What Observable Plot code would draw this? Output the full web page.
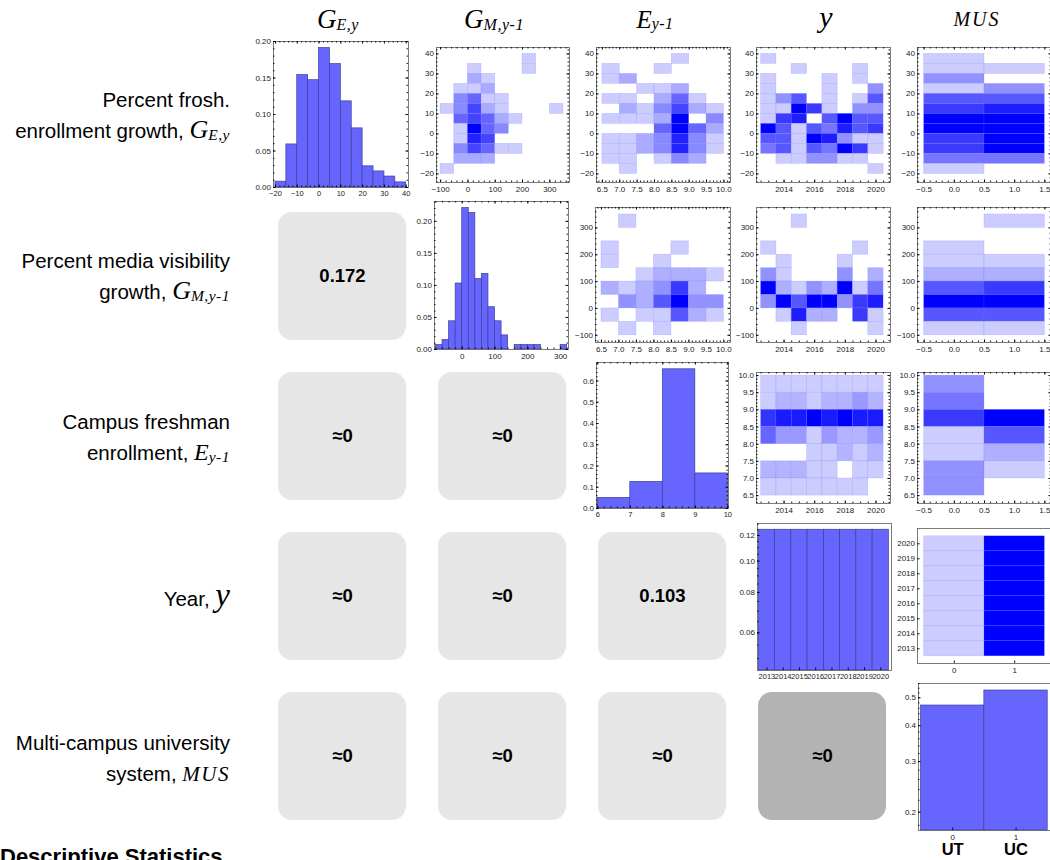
<!DOCTYPE html>
<html><head><meta charset="utf-8">
<script src="https://cdn.jsdelivr.net/npm/d3@7"></script>
<script src="https://cdn.jsdelivr.net/npm/@observablehq/plot@0.6"></script>
<style>
html,body{margin:0;padding:0;background:#fff;overflow:hidden}
#root{position:relative;width:1050px;height:860px;overflow:hidden;font-family:"Liberation Sans",Arial,Helvetica,sans-serif;color:#000}
.hdr{position:absolute;white-space:nowrap;font-family:"Liberation Serif","Times New Roman",serif;font-style:italic;height:40px;line-height:40px;transform:translateX(-50%)}
.hdr sub{font-size:16px;vertical-align:baseline;position:relative;top:0.12em;line-height:0;letter-spacing:0.5px}
.rowlab{position:absolute;right:820px;text-align:right;font-size:20.5px;white-space:nowrap}
.ln{height:31px;line-height:31px}
.mv{font-family:"Liberation Serif","Times New Roman",serif;font-style:italic;line-height:0;font-size:26px}
.mv sub{font-size:15.5px;vertical-align:baseline;position:relative;top:0.1em;line-height:0;letter-spacing:0.5px}
.desc{position:absolute;left:0;top:846px;font-weight:bold;font-size:22px;line-height:22px;white-space:nowrap}
</style></head>
<body><div id="root"></div>
<script>
// ================= DATA =================
// Diagonal histograms (probability per bin)
const geEdges = [-20,-15,-10,-5,0,5,10,15,20,25,30,35,40];
const geFreq  = [0.008,0.059,0.154,0.147,0.191,0.169,0.118,0.081,0.029,0.022,0.015,0.007];
const gmEdges = [-80,-60,-40,-20,0,20,40,60,80,100,120,140,160,180,200,220,240,260,280,300,320];
const gmFreq  = [0.007,0.015,0.044,0.103,0.221,0.213,0.110,0.118,0.066,0.044,0.022,0,0.007,0.007,0.007,0.007,0,0,0,0.007];
const eEdges  = [6,7,8,9,10];
const eFreq   = [0.05,0.125,0.655,0.165];
const yrEdges = [2012.5,2013.5,2014.5,2015.5,2016.5,2017.5,2018.5,2019.5,2020.5];
const yrFreq  = [0.125,0.125,0.125,0.125,0.125,0.125,0.125,0.125];
const musEdges = [-0.5,0.5,1.5];
const musFreq  = [0.47,0.53];
const musNames = ["UT","UC"];

// Density-histogram bin edges (y edges listed top to bottom)
const geYEdges  = [40,35,30,25,20,15,10,5,0,-5,-10,-15,-20];
const gmXEdges  = [-100,-50,0,50,100,150,200,250,300,350];
const gmYEdges  = [350,300,250,200,150,100,50,0,-50,-100];
const eXEdges   = [6.5,7,7.5,8,8.5,9,9.5,10];
const eYEdges   = [10,9.5,9,8.5,8,7.5,7,6.5];
const yrXEdges  = [2012.5,2013.5,2014.5,2015.5,2016.5,2017.5,2018.5,2019.5,2020.5];
const yrYEdges  = [2020.5,2019.5,2018.5,2017.5,2016.5,2015.5,2014.5,2013.5,2012.5];
const musXEdges = [-0.5,0.5,1.5];

// Density counts (rows top->bottom, columns left->right)
const dGE_GM = [
 [0,0,0,0,0,0,1,0,0],[0,0,1,0,0,0,1,0,0],[0,0,2,1,0,0,0,0,0],[0,1,1,2,0,0,0,0,0],
 [0,3,4,1,1,0,0,0,0],[1,3,5,2,1,0,0,0,1],[0,4,5,4,2,1,0,0,0],[0,1,7,4,3,0,0,0,0],
 [0,1,6,5,0,0,0,0,0],[0,3,5,4,1,1,0,0,0],[0,2,2,2,0,0,0,0,0],[1,0,0,0,0,0,0,0,0]];
const dGE_E = [
 [0,0,0,0,1,0,0],[1,0,0,1,0,0,0],[1,2,0,0,0,0,0],[0,0,1,1,2,0,0],
 [1,1,0,2,4,1,0],[0,2,1,3,5,2,1],[1,1,1,2,7,0,3],[0,0,0,4,7,4,2],
 [1,1,2,3,6,3,1],[1,1,2,3,6,3,1],[1,1,0,1,3,2,0],[0,1,0,0,0,0,0]];
const dGE_Y = [
 [1,0,0,0,0,0,0,0],[0,0,1,0,0,0,1,0],[1,0,0,0,1,0,1,0],[1,0,0,0,1,0,0,3],
 [1,3,5,0,1,0,1,5],[1,1,8,6,1,0,3,3],[1,6,7,0,5,8,5,5],[8,5,1,5,4,7,5,6],
 [5,5,1,8,7,3,1,1],[4,5,1,5,4,8,6,1],[0,1,1,3,3,1,1,0],[0,0,0,0,0,0,0,1]];
const dGE_MUS = [
 [1,0],[1,1],[3,0],[1,3],[5,5],[6,7],[8,8],[8,8],[6,8],[6,8],[4,4],[1,0]];
const dGM_E = [
 [0,1,0,0,0,0,0],[0,0,0,0,0,0,0],[1,0,0,0,1,0,0],[1,0,0,1,0,0,0],
 [0,0,1,2,2,2,1],[2,1,2,3,6,2,0],[0,3,2,5,8,3,3],[1,0,1,1,5,2,1],[0,1,0,1,0,0,0]];
const dGM_Y = [
 [0,0,1,0,0,0,0,0],[0,0,0,0,0,0,0,0],[1,0,0,0,0,0,1,0],[0,1,0,0,0,1,0,0],
 [3,1,0,0,0,3,0,2],[8,2,1,3,2,8,1,4],[3,8,5,8,8,3,6,7],[0,1,7,2,2,0,6,1],[0,0,1,0,0,0,0,1]];
const dGM_MUS = [[0,1],[0,0],[1,0],[1,1],[2,2],[5,6],[8,8],[5,5],[1,1]];
const dE_Y = [
 [1,1,1,1,1,1,1,1],[1,2,2,1,2,2,3,2],[7,8,8,9,8,9,8,8],[5,3,3,1,3,2,2,3],
 [0,0,0,1,1,2,1,2],[2,2,2,1,1,0,1,1],[1,1,1,1,1,1,1,0]];
const dE_MUS = [[3,0],[4,0],[6,8],[1,5],[1,2],[3,1],[3,0]];
const dY_MUS = [[8,9],[8,9],[8,9],[8,9],[8,9],[8,9],[8,9],[8,9]];

// Correlation boxes (lower triangle)
const varIds = [0,1,2,3,4];
const corrRow   = [1,2,2,3,3,3,4,4,4,4];
const corrCol   = [0,0,1,0,1,2,0,1,2,3];
const corrLabel = ["0.172","≈0","≈0","≈0","≈0","0.103","≈0","≈0","≈0","≈0"];
const corrShade = ["light","light","light","light","light","light","light","light","light","dark"];

// Tick labels
const geTicks = [-20,-10,0,10,20,30,40];
const gmTicks = [-100,0,100,200,300];
const eTicks  = [6.5,7,7.5,8,8.5,9,9.5,10];
const eHistTicks = [6,7,8,9,10];
const yrTicks = [2014,2016,2018,2020];
const yrAllTicks = [2013,2014,2015,2016,2017,2018,2019,2020];
const musTicks = [-0.5,0,0.5,1,1.5];
const musHistTicks = [0,1];
const pTicks1 = [0,0.05,0.10,0.15,0.20];
const pTicks3 = [0,0.1,0.2,0.3,0.4,0.5,0.6];
const pTicks4 = [0.06,0.08,0.10,0.12];
const pTicks5 = [0.2,0.3,0.4,0.5];

// ================= DRAWING =================
const root = document.getElementById("root");
const FONT = '"Liberation Sans", Arial, Helvetica, sans-serif';
const fD = d3.format("d"), f1 = d3.format(".1f"), f2 = d3.format(".2f");
const HIST_FILL = "#6666ff", HIST_STROKE = "#3e3e96";

function minorTicks(domain, step) {
  const lo = Math.min(...domain), hi = Math.max(...domain);
  const a = Math.ceil(lo / step - 1e-9), b = Math.floor(hi / step + 1e-9);
  return d3.range(a, b + 1).map(k => +(k * step).toFixed(6));
}
function histBins(edges, freq) {
  return freq.map((f, i) => ({x1: edges[i], x2: edges[i + 1], f})).filter(d => d.f > 0);
}
function densityCells(xEdges, yEdges, m) {
  const out = [];
  m.forEach((row, i) => row.forEach((n, j) => {
    if (n > 0) out.push({x1: xEdges[j], x2: xEdges[j + 1], y1: yEdges[i + 1], y2: yEdges[i], n});
  }));
  return out;
}

function panel(o) {
  const [L, T, R, B] = o.frame;
  const w = R - L, h = B - T;
  const ml = 40, mr = 8, mt = 8, mb = 30;
  const inside = dom => v => v >= Math.min(...dom) - 1e-9 && v <= Math.max(...dom) + 1e-9;
  const xt = o.xTicks.filter(inside(o.x.domain));
  const yt = o.yTicks.filter(inside(o.y.domain));
  const xm = o.xMinor ? minorTicks(o.x.domain, o.xMinor) : [];
  const ym = o.yMinor ? minorTicks(o.y.domain, o.yMinor) : [];
  const s = o.sides || "tblr";
  const MAJ = 2.6, MIN = 1.5;
  const ts = {stroke: "#000", strokeWidth: 0.9};
  const marks = [...o.marks, Plot.frame({stroke: "#5a5a5a", strokeWidth: 0.8})];
  if (s.includes("b")) marks.push(Plot.ruleX(xt, {x: d => d, insetTop: h - MAJ, ...ts}), Plot.ruleX(xm, {x: d => d, insetTop: h - MIN, ...ts}));
  if (s.includes("t")) marks.push(Plot.ruleX(xt, {x: d => d, insetBottom: h - MAJ, ...ts}), Plot.ruleX(xm, {x: d => d, insetBottom: h - MIN, ...ts}));
  if (s.includes("l")) marks.push(Plot.ruleY(yt, {y: d => d, insetRight: w - MAJ, ...ts}), Plot.ruleY(ym, {y: d => d, insetRight: w - MIN, ...ts}));
  if (s.includes("r")) marks.push(Plot.ruleY(yt, {y: d => d, insetLeft: w - MAJ, ...ts}), Plot.ruleY(ym, {y: d => d, insetLeft: w - MIN, ...ts}));
  marks.push(Plot.axisX({ticks: xt, tickFormat: o.xFmt, tickSize: 0, tickPadding: 3.5, fontSize: o.xFont || 8, label: null, fill: "#222"}));
  marks.push(Plot.axisY({ticks: yt, tickFormat: o.yFmt, tickSize: 0, tickPadding: 2.5, fontSize: 8, label: null, fill: "#222"}));
  if (o.extra) marks.push(...o.extra);
  const svg = Plot.plot({
    width: w + ml + mr, height: h + mt + mb,
    marginLeft: ml, marginRight: mr, marginTop: mt, marginBottom: mb,
    x: {...o.x}, y: {...o.y},
    color: o.color,
    style: {background: "transparent", overflow: "visible", fontFamily: FONT},
    marks
  });
  svg.style.position = "absolute";
  svg.style.left = (L - ml) + "px";
  svg.style.top = (T - mt) + "px";
  root.append(svg);
}

function histPanel(o, edges, freq) {
  const base = o.y.domain[0];
  o.marks = [Plot.rect(histBins(edges, freq), {x1: "x1", x2: "x2", y1: () => base, y2: "f", fill: HIST_FILL, stroke: HIST_STROKE, strokeWidth: 0.7})];
  panel(o);
}
function densPanel(o, xEdges, yEdges, m) {
  const cells = densityCells(xEdges, yEdges, m);
  const ns = cells.map(d => d.n);
  o.color = {type: "linear", domain: [d3.min(ns), d3.max(ns)], range: ["#ccccff", "#0000ff"], interpolate: "rgb"};
  o.marks = [Plot.rect(cells, {x1: "x1", x2: "x2", y1: "y1", y2: "y2", fill: "n", stroke: "#6f6fff", strokeOpacity: 0.3, strokeWidth: 0.6})];
  panel(o);
}

// ---- Correlation boxes overlay (behind panels) ----
const corr = corrRow.map((r, i) => ({row: r, col: corrCol[i], label: corrLabel[i], shade: corrShade[i]}));
const corrSvg = Plot.plot({
  width: 1050, height: 860,
  marginLeft: 276, marginRight: 2.6, marginTop: 50.2, marginBottom: 38.4,
  x: {type: "band", domain: varIds, paddingInner: 0.2, paddingOuter: 0, axis: null},
  y: {type: "band", domain: varIds, paddingInner: 0.2, paddingOuter: 0, axis: null},
  color: {type: "ordinal", domain: ["light", "dark"], range: ["#e6e6e6", "#b3b3b3"]},
  style: {background: "transparent", fontFamily: FONT},
  marks: [
    Plot.cell(corr, {x: "col", y: "row", fill: "shade", rx: 14, inset: 0}),
    Plot.text(corr, {x: "col", y: "row", text: "label", fontSize: 18.5, fontWeight: "bold", fill: "#000"})
  ]
});
corrSvg.style.position = "absolute"; corrSvg.style.left = "0px"; corrSvg.style.top = "0px";
root.append(corrSvg);

// ---- Axes domains ----
const GE_Y = [-24.3, 43.2], GM_Y = [-127, 376], E_Y = [6.27, 10.09], YR_Y = [2012.02, 2021.02];
const GM_X = [-115, 372], E_X = [6.33, 10.19], YR_X = [2012.2, 2020.95], MUS_X = [-0.61, 1.61];

// Row 1
histPanel({frame: [273, 41, 408, 187], x: {domain: [-20.9, 41.05]}, y: {domain: [0, 0.2]},
  xTicks: geTicks, yTicks: pTicks1, xFmt: fD, yFmt: f2, xMinor: 2, yMinor: 0.01, xFont: 7.5}, geEdges, geFreq);
densPanel({frame: [436, 47, 569, 182], x: {domain: GM_X}, y: {domain: GE_Y},
  xTicks: gmTicks, yTicks: geTicks, xFmt: fD, yFmt: fD, xMinor: 20, yMinor: 2}, gmXEdges, geYEdges, dGE_GM);
densPanel({frame: [596, 47, 730, 182], x: {domain: E_X}, y: {domain: GE_Y},
  xTicks: eTicks, yTicks: geTicks, xFmt: f1, yFmt: fD, xMinor: 0.1, yMinor: 2}, eXEdges, geYEdges, dGE_E);
densPanel({frame: [756, 47, 890, 182], x: {domain: YR_X}, y: {domain: GE_Y},
  xTicks: yrTicks, yTicks: geTicks, xFmt: fD, yFmt: fD, xMinor: 0.5, yMinor: 2}, yrXEdges, geYEdges, dGE_Y);
densPanel({frame: [917, 47, 1051, 182], x: {domain: MUS_X}, y: {domain: GE_Y},
  xTicks: musTicks, yTicks: geTicks, xFmt: f1, yFmt: fD, xMinor: 0.1, yMinor: 2}, musXEdges, geYEdges, dGE_MUS);

// Row 2
histPanel({frame: [434, 201, 568, 349], x: {domain: [-84.5, 324]}, y: {domain: [0, 0.231]},
  xTicks: gmTicks, yTicks: pTicks1, xFmt: fD, yFmt: f2, xMinor: 20, yMinor: 0.01}, gmEdges, gmFreq);
densPanel({frame: [595, 207, 730, 342], x: {domain: E_X}, y: {domain: GM_Y},
  xTicks: eTicks, yTicks: gmTicks, xFmt: f1, yFmt: fD, xMinor: 0.1, yMinor: 20}, eXEdges, gmYEdges, dGM_E);
densPanel({frame: [756, 207, 890, 342], x: {domain: YR_X}, y: {domain: GM_Y},
  xTicks: yrTicks, yTicks: gmTicks, xFmt: fD, yFmt: fD, xMinor: 0.5, yMinor: 20}, yrXEdges, gmYEdges, dGM_Y);
densPanel({frame: [917, 207, 1051, 342], x: {domain: MUS_X}, y: {domain: GM_Y},
  xTicks: musTicks, yTicks: gmTicks, xFmt: f1, yFmt: fD, xMinor: 0.1, yMinor: 20}, musXEdges, gmYEdges, dGM_MUS);

// Row 3
histPanel({frame: [596, 362, 728, 508], x: {domain: [5.96, 10.02]}, y: {domain: [0, 0.687]},
  xTicks: eHistTicks, yTicks: pTicks3, xFmt: fD, yFmt: f1, xMinor: 0.2, yMinor: 0.02, xFont: 7.5}, eEdges, eFreq);
densPanel({frame: [756, 372, 890, 503], x: {domain: YR_X}, y: {domain: E_Y},
  xTicks: yrTicks, yTicks: eTicks, xFmt: fD, yFmt: f1, xMinor: 0.5, yMinor: 0.1}, yrXEdges, eYEdges, dE_Y);
densPanel({frame: [917, 372, 1051, 503], x: {domain: MUS_X}, y: {domain: E_Y},
  xTicks: musTicks, yTicks: eTicks, xFmt: f1, yFmt: f1, xMinor: 0.1, yMinor: 0.1}, musXEdges, eYEdges, dE_MUS);

// Row 4
histPanel({frame: [757, 523, 891, 670], x: {domain: [2012.42, 2020.66]}, y: {type: "log", domain: [0.0459, 0.1307]},
  xTicks: yrAllTicks, yTicks: pTicks4, xFmt: fD, yFmt: f2, yMinor: 0.005, sides: "bl", xFont: 7.5}, yrEdges, yrFreq);
densPanel({frame: [917, 528, 1051, 663], x: {domain: MUS_X}, y: {domain: YR_Y},
  xTicks: musHistTicks, yTicks: yrAllTicks, xFmt: fD, yFmt: fD, sides: "bl"}, musXEdges, yrYEdges, dY_MUS);

// Row 5
histPanel({frame: [918, 683, 1051, 830], x: {domain: [-0.54, 1.56]}, y: {type: "log", domain: [0.1727, 0.5607]},
  xTicks: musHistTicks, yTicks: pTicks5, xFmt: fD, yFmt: f1, yMinor: 0.02, sides: "bl",
  extra: [Plot.text(musNames, {x: (d, i) => musHistTicks[i], text: d => d, frameAnchor: "bottom", lineAnchor: "top", dy: 13, fontSize: 16.5, fontWeight: "bold", fill: "#000"})]
}, musEdges, musFreq);

// ---- Column headers ----
function baseTop(base, fs, lh) { return base - ((lh - 1.107 * fs) / 2 + 0.891 * fs); }
const headers = [
  {x: 338, base: 28, size: 27, html: 'G<sub>E,y</sub>'},
  {x: 494, base: 28, size: 27, html: 'G<sub>M,y-1</sub>'},
  {x: 655, base: 28, size: 25, html: 'E<sub>y-1</sub>'},
  {x: 826, base: 27, size: 30, html: 'y'},
  {x: 977, base: 26, size: 20, html: 'MUS', ls: 2}
];
headers.forEach(hd => {
  const d = document.createElement("div");
  d.className = "hdr";
  d.style.left = hd.x + "px";
  d.style.top = baseTop(hd.base, hd.size, 40) + "px";
  d.style.fontSize = hd.size + "px";
  if (hd.ls) d.style.letterSpacing = hd.ls + "px";
  d.innerHTML = hd.html;
  root.append(d);
});

// ---- Row labels ----
const rowLabels = [
  {c: 114, lines: ['Percent frosh.', 'enrollment growth, <span class="mv">G<sub>E,y</sub></span>']},
  {c: 275, lines: ['Percent media visibility', 'growth, <span class="mv">G<sub>M,y-1</sub></span>']},
  {c: 436, lines: ['Campus freshman', 'enrollment, <span class="mv" style="font-size:24px">E<sub>y-1</sub></span>']},
  {c: 596, lines: ['Year, <span class="mv" style="font-size:33px">y</span>']},
  {c: 757, lines: ['Multi-campus university', 'system, <span class="mv" style="font-size:21px;letter-spacing:1.5px">MUS</span>']}
];
rowLabels.forEach(r => {
  const d = document.createElement("div");
  d.className = "rowlab";
  d.style.top = (r.lines.length === 2 ? r.c - 30 : r.c - 13.5) + "px";
  d.innerHTML = r.lines.map(t => `<div class="ln">${t}</div>`).join("");
  root.append(d);
});

const desc = document.createElement("div");
desc.className = "desc";
desc.textContent = "Descriptive Statistics";
root.append(desc);
</script>
</body></html>
